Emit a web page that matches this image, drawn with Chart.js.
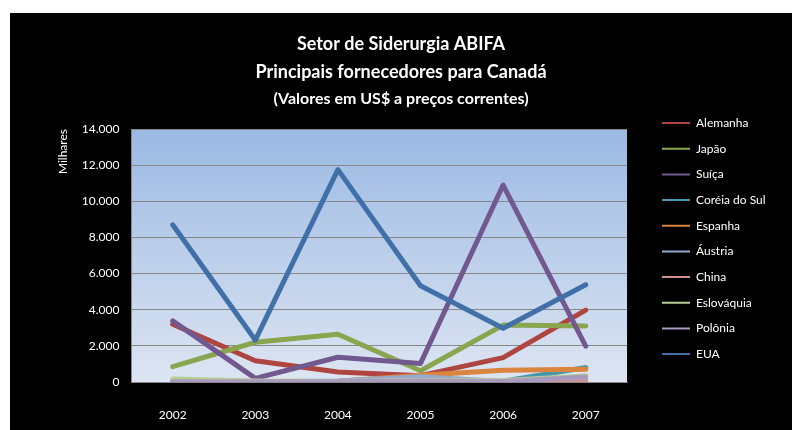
<!DOCTYPE html>
<html>
<head>
<meta charset="utf-8">
<script src="https://cdn.jsdelivr.net/npm/chart.js@4"></script>
<style>
  html, body { margin: 0; padding: 0; background: #fff; }
  #wrap { position: absolute; left: 10px; top: 13px; width: 782px; height: 417px; background: #000; }
</style>
</head>
<body>
<div id="wrap"><canvas id="chart" width="782" height="417"></canvas></div>
<script>
// years on the x axis
const years = ['2002', '2003', '2004', '2005', '2006', '2007'];

// imports per supplier (US$ thousands)
const alemanha = [3200, 1180, 550, 350, 1350, 3980];
const japao = [850, 2200, 2640, 620, 3150, 3100];
const suica = [3380, 200, 1370, 1030, 10900, 1980];
const coreia = [0, 0, 0, 100, 50, 800];
const espanha = [50, 30, 40, 380, 650, 700];
const austria = [30, 20, 60, 290, 30, 300];
const china = [0, 0, 0, 20, 30, 100];
const eslovaquia = [170, 60, 30, 100, 80, 330];
const polonia = [20, 20, 20, 50, 30, 270];
const eua = [8700, 2320, 11750, 5330, 2970, 5380];

const yTicks = [0, 2000, 4000, 6000, 8000, 10000, 12000, 14000];

const series = [
    ['Alemanha', alemanha, '#AE4541'],
    ['Japão', japao, '#89A54E'],
    ['Suíça', suica, '#71588F'],
    ['Coréia do Sul', coreia, '#4198AF'],
    ['Espanha', espanha, '#DB843D'],
    ['Áustria', austria, '#93A9CF'],
    ['China', china, '#D19392'],
    ['Eslováquia', eslovaquia, '#B9CD96'],
    ['Polônia', polonia, '#A99BBD'],
    ['EUA', eua, '#4170A8']
];

Chart.defaults.font.family = 'Lato';
Chart.defaults.color = '#fff';

// plot area gradient
const plotBackground = {
    id: 'plotBackground',
    beforeDraw(chart) {
        const a = chart.chartArea;
        const ctx = chart.ctx;
        const g = ctx.createLinearGradient(0, a.top, 0, a.bottom);
        g.addColorStop(0, '#9bb9e3');
        g.addColorStop(1, '#dde5f2');
        ctx.save();
        ctx.fillStyle = g;
        ctx.fillRect(a.left, a.top, a.right - a.left, a.bottom - a.top);
        ctx.restore();
    }
};

const ctx = document.getElementById('chart').getContext('2d');
const chart = new Chart(ctx, {
    type: 'line',
    data: {
        labels: years,
        datasets: series.map(function(s, i) {
            return {
                label: s[0],
                data: s[1],
                borderColor: s[2],
                backgroundColor: s[2],
                borderWidth: 5,
                pointRadius: 0,
                tension: 0,
                borderJoinStyle: 'round',
                borderCapStyle: 'round',
                order: series.length - i
            };
        })
    },
    options: {
        responsive: false,
        animation: false,
        layout: { padding: { left: 20, right: 20, top: 0, bottom: 0 } },
        plugins: {
            tooltip: { enabled: false },
            title: {
                display: true,
                text: ['Setor de Siderurgia ABIFA', 'Principais fornecedores para Canadá'],
                color: '#fff',
                font: { size: 18, weight: 'bold', lineHeight: 1.556 },
                padding: { top: 17, bottom: 0 }
            },
            subtitle: {
                display: true,
                text: '(Valores em US$ a preços correntes)',
                color: '#fff',
                font: { size: 16, weight: 'bold', lineHeight: 1.625 },
                padding: { top: 0, bottom: 17 }
            },
            legend: {
                position: 'right',
                align: 'start',
                title: { display: true, text: ' ', font: { size: 12 }, padding: { top: 76, bottom: 0 } },
                labels: {
                    color: '#fff',
                    font: { size: 12 },
                    boxWidth: 28,
                    boxHeight: 2,
                    padding: 13.67,
                    generateLabels(chart) {
                        return chart.data.datasets.map(function(ds, i) {
                            return {
                                text: ds.label,
                                fillStyle: ds.borderColor,
                                strokeStyle: ds.borderColor,
                                lineWidth: 0,
                                fontColor: '#fff',
                                hidden: false,
                                datasetIndex: i
                            };
                        });
                    }
                }
            }
        },
        scales: {
            x: {
                offset: true,
                grid: { display: false, offset: true },
                border: { display: true, color: '#878787' },
                ticks: { color: '#fff', font: { size: 12 }, padding: 18 },
                afterFit(s) { s.height = 48; }
            },
            y: {
                min: 0,
                max: 14000,
                afterBuildTicks(s) { s.ticks = yTicks.map(v => ({ value: v })); },
                grid: { color: '#878787', lineWidth: 1, drawTicks: false },
                border: { display: true, color: '#878787' },
                ticks: {
                    color: '#fff',
                    font: { size: 12 },
                    padding: 12,
                    callback: v => String(v).replace(/\B(?=(\d{3})+(?!\d))/g, '.')
                },
                title: {
                    display: true,
                    text: 'Milhares',
                    align: 'end',
                    color: '#fff',
                    font: { size: 12 },
                    padding: { top: 26, bottom: 0 }
                },
                afterFit(s) { s.width = 101.4; }
            },
            y2: {
                position: 'right',
                grid: { display: false, drawTicks: false },
                border: { display: false },
                ticks: { display: false },
                afterFit(s) { s.width = 21.3; }
            }
        }
    },
    plugins: [plotBackground]
});
</script>
</body>
</html>
